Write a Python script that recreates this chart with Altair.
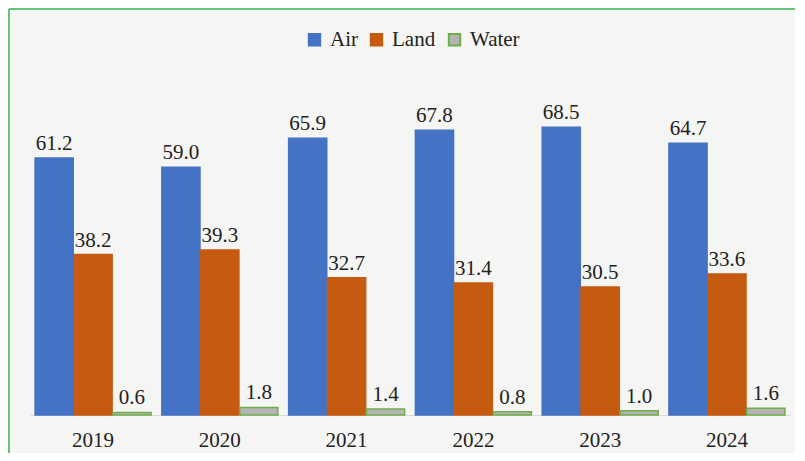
import altair as alt
import pandas as pd

years = ["2019", "2020", "2021", "2022", "2023", "2024"]
air = [61.2, 59.0, 65.9, 67.8, 68.5, 64.7]
land = [38.2, 39.3, 32.7, 31.4, 30.5, 33.6]
water = [0.6, 1.8, 1.4, 0.8, 1.0, 1.6]
series = ["Air", "Land", "Water"]
fills = ["#4472c4", "#c55a11", "#b4b4b4"]
strokes = ["#4472c4", "#c55a11", "#70ad47"]

rows = []
for i, y in enumerate(years):
    for s, vals in zip(series, [air, land, water]):
        rows.append({"year": y, "mode": s, "value": vals[i]})
df = pd.DataFrame(rows)

FONT = "Liberation Serif"

base = alt.Chart(df).encode(
    x=alt.X("year:N", sort=years, title=None,
            scale=alt.Scale(paddingInner=0.085, paddingOuter=0.04),
            axis=alt.Axis(labelAngle=0, ticks=False, domainColor="#d9d9d9",
                          labelFont=FONT, labelFontSize=21, labelColor="#222222",
                          labelPadding=14)),
    xOffset=alt.XOffset("mode:N", sort=series,
                        scale=alt.Scale(paddingInner=0.02)),
    y=alt.Y("value:Q", scale=alt.Scale(domain=[0, 90]), axis=None),
)

bars = base.mark_bar(strokeWidth=1.5).encode(
    fill=alt.Fill("mode:N", sort=series, title=None,
                  scale=alt.Scale(domain=series, range=fills),
                  legend=alt.Legend(orient="none", direction="horizontal",
                                    legendX=274, legendY=-8,
                                    symbolType="square", symbolSize=130,
                                    labelFont=FONT, labelFontSize=21,
                                    labelColor="#222222", columnPadding=8,
                                    labelOffset=5, symbolStrokeWidth=2)),
    stroke=alt.Stroke("mode:N", sort=series, title=None,
                      scale=alt.Scale(domain=series, range=strokes)),
)

labels = base.mark_text(font=FONT, fontSize=21, color="#222222",
                        baseline="alphabetic", dy=-8).encode(
    text=alt.Text("value:Q", format=".1f")
)

frame_top = alt.Chart(df).mark_rule(color="#66c575", strokeWidth=2).encode(
    x=alt.value(-21), x2=alt.value(770), y=alt.value(-28)
)
frame_left = alt.Chart(df).mark_rule(color="#66c575", strokeWidth=2).encode(
    x=alt.value(-21), y=alt.value(-28), y2=alt.value(420)
)

chart = alt.layer(bars, labels, frame_top, frame_left).properties(
    width=760, height=378,
    padding={"left": 22, "top": 29, "right": 5, "bottom": 38},
    autosize=alt.AutoSizeParams(type="none"),
    background="#f5f5f3",
).configure_view(stroke=None)

chart.save("out.html", embed_options={"renderer": "svg", "actions": False})
